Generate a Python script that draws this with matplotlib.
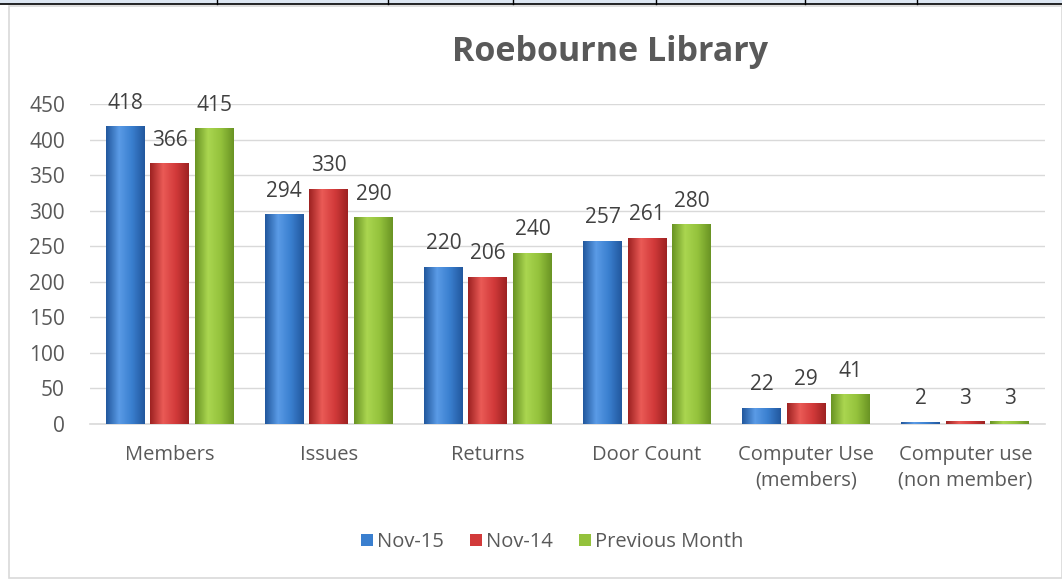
import numpy as np
import matplotlib.pyplot as plt
from matplotlib.colors import LinearSegmentedColormap
from matplotlib.patches import Rectangle
from matplotlib.lines import Line2D

plt.rcParams['font.family'] = ['Open Sans', 'DejaVu Sans']

# data
categories = ['Members', 'Issues', 'Returns', 'Door Count',
              'Computer Use\n(members)', 'Computer use\n(non member)']
series_names = ['Nov-15', 'Nov-14', 'Previous Month']
nov15 = [418, 294, 220, 257, 22, 2]
nov14 = [366, 330, 206, 261, 29, 3]
prev_month = [415, 290, 240, 280, 41, 3]
table_cols = [217, 388, 513, 656, 805, 917]

base_cols = ['#3a7fcf', '#d23a3a', '#94c23c']
edge_cols = ['#22589e', '#9e2222', '#6a9424']
light_cols = ['#5a9be6', '#ea5a56', '#aad650']

fig = plt.figure(figsize=(10.62, 5.80), dpi=100)

# table lines at top + chart frame (figure pixel coords)
W, H = 1062, 580
fig.patches.append(Rectangle((0, 1 - 4 / H), 1, 4 / H, transform=fig.transFigure,
                             facecolor='#dce6f2', edgecolor='none', zorder=0))
fig.lines.append(Line2D([0, 1], [1 - 4 / H, 1 - 4 / H], transform=fig.transFigure,
                       color='black', lw=1.2))
for x in table_cols:
    fig.lines.append(Line2D([x / W, x / W], [1, 1 - 4 / H], transform=fig.transFigure,
                            color='black', lw=1))
fig.patches.append(Rectangle((8.5 / W, 2 / H), (W - 9) / W, (H - 8) / H,
                             transform=fig.transFigure, facecolor='none',
                             edgecolor='#d9d9d9', lw=1.2))

ax = fig.add_axes([90 / W, 1 - 424 / H, 955 / W, 320 / H])

x = np.arange(len(categories))
bw = 0.245
step = 0.28
all_series = [nov15, nov14, prev_month]
for i, vals in enumerate(all_series):
    bars = ax.bar(x + (i - 1) * step, vals, bw, color=base_cols[i],
                  edgecolor='none', zorder=3, label=series_names[i])
    cmap = LinearSegmentedColormap.from_list(
        'g', [edge_cols[i], light_cols[i], base_cols[i], edge_cols[i]])
    grad = np.linspace(0, 1, 64).reshape(1, -1)
    for b, v in zip(bars, vals):
        ax.imshow(grad, cmap=cmap, aspect='auto', zorder=4,
                  extent=(b.get_x(), b.get_x() + b.get_width(), 0, b.get_height()))
        ax.annotate(str(v), (b.get_x() + b.get_width() / 2, v),
                    xytext=(0, 17), textcoords='offset points',
                    ha='center', va='center', fontsize=15, color='#404040')

ax.set_xlim(-0.5, len(categories) - 0.5)
ax.set_ylim(0, 450)
ax.set_yticks(range(0, 451, 50))
ax.set_xticks(x)
ax.set_xticklabels(categories, fontsize=14.5, color='#595959', linespacing=1.4)
ax.tick_params(axis='y', labelsize=15, labelcolor='#595959', length=0, pad=18)
ax.tick_params(axis='x', length=0, pad=15)
ax.grid(axis='y', color='#d9d9d9', lw=1, zorder=0)
ax.set_axisbelow(True)
for s in ['top', 'right', 'left']:
    ax.spines[s].set_visible(False)
ax.spines['bottom'].set_color('#d9d9d9')
ax.spines['bottom'].set_linewidth(1.2)

fig.text(610 / W, 1 - 52 / H, 'Roebourne Library', ha='center', va='center',
         fontsize=24.5, fontweight='bold', color='#595959')

fig.legend(loc='center', bbox_to_anchor=(552 / W, 1 - 542 / H), ncol=3, frameon=False,
           fontsize=14.5, labelcolor='#595959', handlelength=0.6, handleheight=0.6,
           handletextpad=0.2, columnspacing=1.3)

fig.savefig('out.png', dpi=100)
